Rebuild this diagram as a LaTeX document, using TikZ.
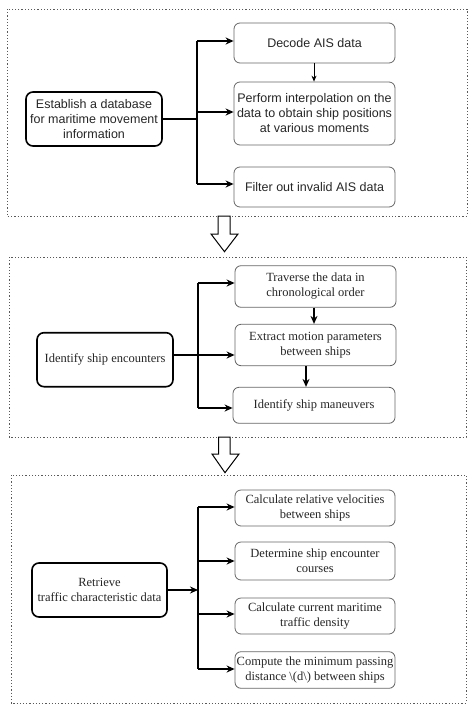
\documentclass[tikz,border=0pt]{standalone}
\usepackage{fontspec}
\setmainfont{Liberation Serif}
\newfontfamily\arialfont{Liberation Sans}
\usetikzlibrary{arrows.meta}

\begin{document}
\begin{tikzpicture}[x=1pt,y=-1pt,
    panel/.style={draw=black!65,line width=1pt,dash pattern=on 1.2pt off 2pt},
    mainbox/.style={draw,line width=1.6pt,rounded corners=7pt,align=center,text=black!85,inner sep=0pt,minimum width=136pt,minimum height=54pt},
    subbox/.style={draw=black!60,line width=0.8pt,rounded corners=6pt,align=center,text=black!85,inner sep=0pt,minimum width=161pt},
    trunk/.style={line width=1.5pt},
    arr/.style={line width=1.5pt,-{Stealth[length=8pt,width=7pt]}},
    thinarr/.style={line width=0.8pt,-{Stealth[length=6pt,width=5pt]}},
    hollow/.style={draw,line width=1pt,fill=white}]
\fontsize{12.5}{15}\selectfont
\useasboundingbox (0,0) rectangle (474,712);

% panels
\draw [panel] (7,9) rectangle (467,216);
\draw [panel] (9,257) rectangle (466,437);
\draw [panel] (11,475) rectangle (466,703);

% stage 1
\begin{scope}[font=\arialfont\fontsize{12.5}{15}\selectfont]
    \node [mainbox] (est) at (94,119) {Establish a database\\for maritime movement\\information};
    \node [subbox,minimum height=40pt] (dec) at (314.5,43) {Decode AIS data};
    \node [subbox,minimum height=63pt] (interp) at (314.5,113.5) {Perform interpolation on the\\data to obtain ship positions\\at various moments};
    \node [subbox,minimum height=40pt] (filt) at (314.5,187) {Filter out invalid AIS data};
\end{scope}
\coordinate (b1a) at (197,41);
\coordinate (b1b) at (197,112);
\coordinate (b1c) at (197,184);
\draw [trunk] (est.east) -- (est.east -| b1a);
\draw [trunk] (b1a) -- (b1c);
\draw [arr] (b1a) -- (b1a -| dec.west);
\draw [arr] (b1b) -- (b1b -| interp.west);
\draw [arr] (b1c) -- (b1c -| filt.west);
\draw [thinarr] (dec.south -| 314,0) -- (interp.north -| 314,0);

\draw [hollow] (218,216) -- (230,216) -- (230,234) -- (238,234) -- (224.5,251.7) -- (211,234) -- (218,234) -- cycle;

% stage 2
\node [mainbox] (enc) at (105,359.7) {Identify ship encounters};
\node [subbox,minimum height=41.6pt] (trav) at (315.5,286.5) {Traverse the data in\\chronological order};
\node [subbox,minimum height=41.4pt] (extr) at (315.5,345) {Extract motion parameters\\between ships};
\node [subbox,minimum height=36pt,minimum width=162pt] (man) at (314,405.3) {Identify ship maneuvers};
\coordinate (b2a) at (198,283);
\coordinate (b2b) at (198,355);
\coordinate (b2c) at (198,408);
\draw [trunk] (enc.east |- b2b) -- (b2b);
\draw [trunk] (b2a) -- (b2c);
\draw [arr] (b2a) -- (b2a -| trav.west);
\draw [arr] (b2b) -- (b2b -| extr.west);
\draw [arr] (b2c) -- (b2c -| man.west);
\draw [arr] (trav.south -| 314,0) -- (extr.north -| 314,0);
\draw [arr] (extr.south -| 306,0) -- (man.north -| 306,0);

\draw [hollow] (218.5,437) -- (230,437) -- (230,454) -- (239,454) -- (225,472.7) -- (212,454) -- (218.5,454) -- cycle;

% stage 3
\node [mainbox,minimum width=135pt] (ret) at (99.5,590) {Retrieve\\traffic characteristic data};
\node [subbox,minimum height=36pt,minimum width=160pt] (rvel) at (315,508) {Calculate relative velocities\\between ships};
\node [subbox,minimum height=38pt,minimum width=160pt] (crs) at (315,561) {Determine ship encounter\\courses};
\node [subbox,minimum height=36pt,minimum width=160pt] (dens) at (315,616) {Calculate current maritime\\traffic density};
\node [subbox,minimum height=36.6pt,minimum width=160pt] (dmin) at (315,670) {Compute the minimum passing\\distance \textbackslash(d\textbackslash) between ships};
\coordinate (b3a) at (198,507);
\coordinate (b3b) at (198,561);
\coordinate (b3c) at (198,614);
\coordinate (b3d) at (198,669);
\draw [arr] (ret.east) -- (ret.east -| b3a);
\draw [trunk] (b3a) -- (b3d);
\draw [arr] (b3a) -- (b3a -| rvel.west);
\draw [arr] (b3b) -- (b3b -| crs.west);
\draw [arr] (b3c) -- (b3c -| dens.west);
\draw [arr] (b3d) -- (b3d -| dmin.west);
\end{tikzpicture}
\end{document}
